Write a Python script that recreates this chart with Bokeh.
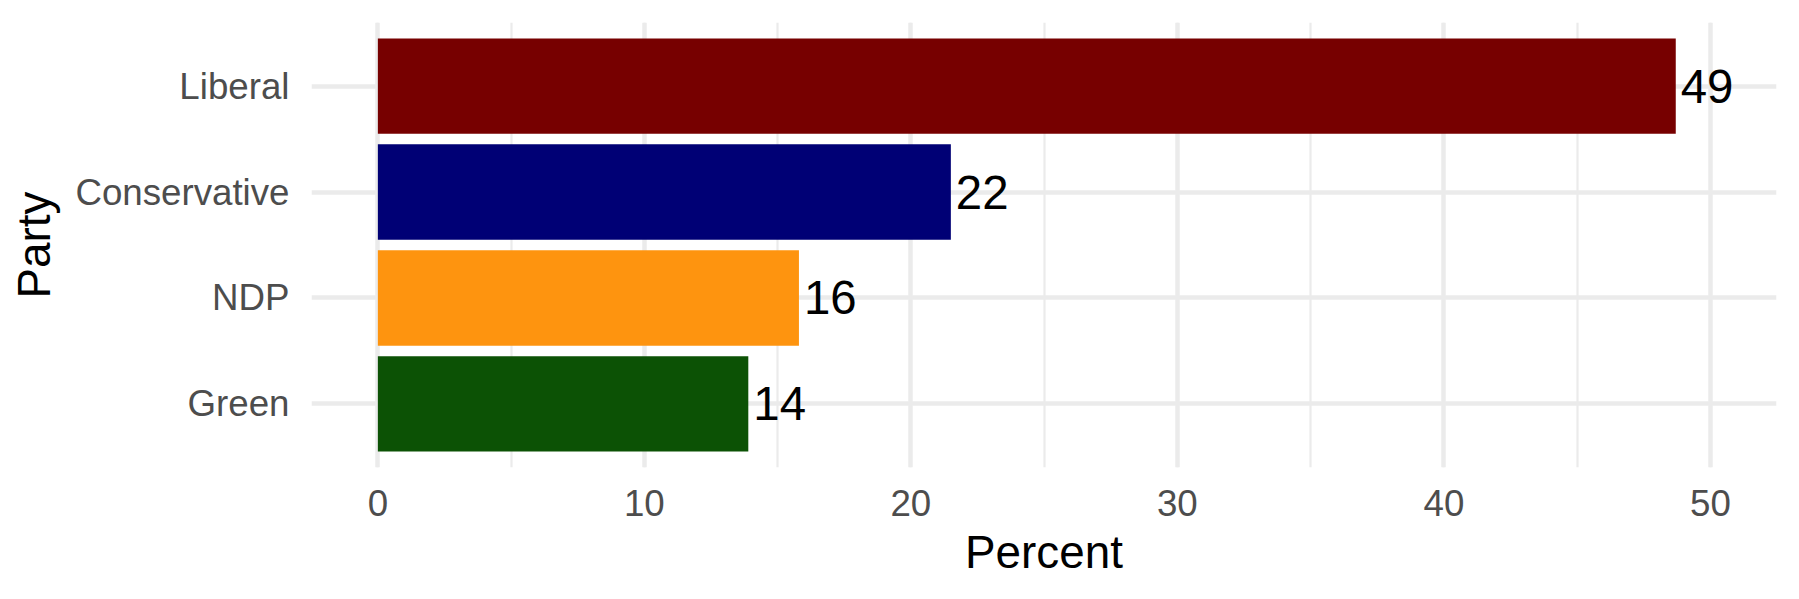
from bokeh.plotting import figure
from bokeh.models import FactorRange, Range1d, SingleIntervalTicker, ColumnDataSource
from bokeh.embed import file_html
from bokeh.resources import INLINE

parties = ["Green", "NDP", "Conservative", "Liberal"]
percent = [13.9, 15.8, 21.5, 48.7]
labels = ["14", "16", "22", "49"]
colors = ["#0C5205", "#FE940F", "#000075", "#770000"]

x_ticks = [0, 10, 20, 30, 40, 50]

src = ColumnDataSource(dict(party=parties, pct=percent, lab=labels, col=colors))

p = figure(
    width=1791, height=591,
    y_range=FactorRange(factors=parties, range_padding=0.1, range_padding_units="absolute"),
    x_range=Range1d(-2.49, 52.48),
    output_backend="svg", toolbar_location=None,
    min_border_left=311, min_border_right=15, min_border_top=22, min_border_bottom=124,
)
p.outline_line_color = None
p.background_fill_color = "white"
p.border_fill_color = "white"

p.hbar(y="party", right="pct", left=0, height=0.9, color="col", line_color=None, source=src)
p.text(x="pct", y="party", text="lab", source=src, text_align="left", text_baseline="middle",
       x_offset=5, text_font_size="47.4px", text_color="black", text_font={"value": "Liberation Sans"})

p.xaxis.ticker = SingleIntervalTicker(interval=10, num_minor_ticks=2)
p.xgrid.grid_line_color = "#EBEBEB"
p.xgrid.grid_line_width = 4.45
p.xgrid.minor_grid_line_color = "#EBEBEB"
p.xgrid.minor_grid_line_width = 2.2
p.ygrid.grid_line_color = "#EBEBEB"
p.ygrid.grid_line_width = 4.45

for ax in (p.xaxis, p.yaxis):
    ax.axis_line_color = None
    ax.major_tick_line_color = None
    ax.minor_tick_line_color = None
    ax.major_tick_out = 0
    ax.minor_tick_out = 0
    ax.major_label_text_font = "Liberation Sans"
    ax.major_label_text_font_size = "36.7px"
    ax.major_label_text_color = "#4D4D4D"
    ax.axis_label_text_font = "Liberation Sans"
    ax.axis_label_text_font_size = "45.8px"
    ax.axis_label_text_font_style = "normal"
    ax.axis_label_text_color = "black"

p.xaxis.axis_label = "Percent"
p.yaxis.axis_label = "Party"
p.xaxis.major_label_standoff = 22
p.xaxis.axis_label_standoff = 8
p.yaxis.major_label_standoff = 22
p.yaxis.axis_label_standoff = 12

open("out.html", "w").write(file_html(p, INLINE))
